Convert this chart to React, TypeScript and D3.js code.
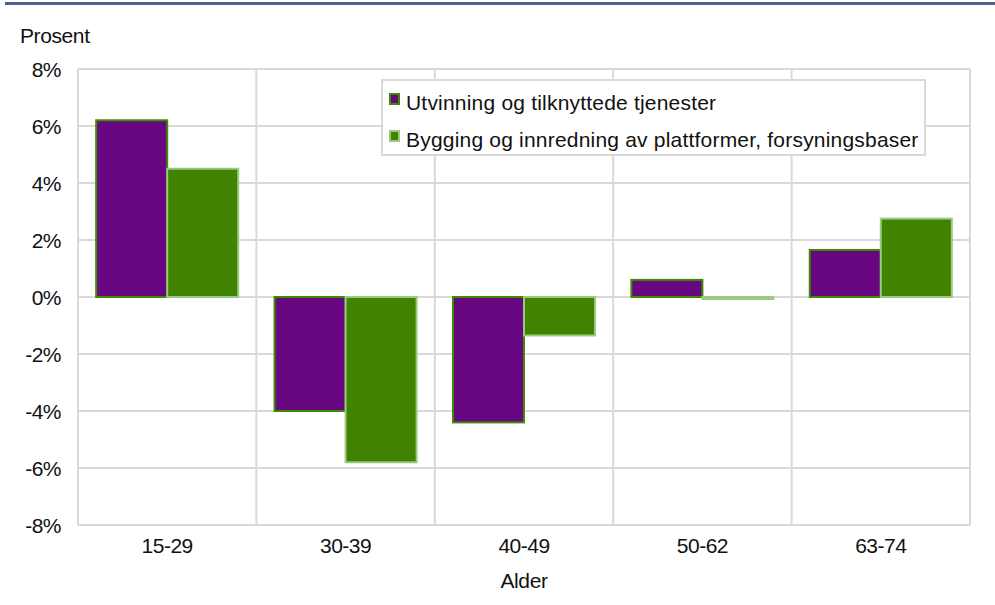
import React from 'react';
import * as d3 from 'd3';

const categories = ['15-29', '30-39', '40-49', '50-62', '63-74'];
const seriesNames = [
  'Utvinning og tilknyttede tjenester',
  'Bygging og innredning av plattformer, forsyningsbaser',
];
const utvinning = [6.2, -4.0, -4.4, 0.6, 1.65];
const bygging = [4.5, -5.8, -1.35, -0.07, 2.75];
const yTicks = [-8, -6, -4, -2, 0, 2, 4, 6, 8];

const fills = ['#690783', '#408300'];
const strokes = ['#3f8a00', '#9cc884'];

const W = 995;
const H = 605;
const margin = { top: 69, right: 25, bottom: 80, left: 78 };

export default function App() {
  const innerW = W - margin.left - margin.right;
  const innerH = H - margin.top - margin.bottom;

  const x = d3.scaleBand<string>().domain(categories).range([0, innerW]).paddingInner(0).paddingOuter(0);
  const x1 = d3.scaleBand<number>().domain([0, 1]).range([0, x.bandwidth()]).paddingOuter(0.256).paddingInner(0);
  const y = d3.scaleLinear().domain([-8, 8]).range([innerH, 0]);

  const series = [utvinning, bygging];
  const font = '"Liberation Sans", Arial, sans-serif';

  return (
    <svg width={W} height={H} style={{ position: 'absolute', left: 0, top: 0, fontFamily: font }}>
      <rect width={W} height={H} fill="#fff" />
      <rect x={5} y={2} width={990} height={3} fill="#4a6192" />
      <text x={20} y={43} fontSize={21} fill="#111" letterSpacing={-0.4}>Prosent</text>
      <g transform={`translate(${margin.left},${margin.top})`}>
        {/* horizontal grid */}
        {yTicks.map(t => (
          <line key={'h' + t} x1={0} x2={innerW} y1={y(t)} y2={y(t)} stroke="#d9d9d9" strokeWidth={2} />
        ))}
        {/* vertical grid */}
        {d3.range(categories.length + 1).map(i => (
          <line key={'v' + i} x1={i * x.step()} x2={i * x.step()} y1={0} y2={innerH} stroke="#d9d9d9" strokeWidth={2} />
        ))}
        {/* bars */}
        {categories.map((c, ci) =>
          series.map((s, si) => {
            const v = s[ci];
            const bx = (x(c) ?? 0) + (x1(si) ?? 0);
            const top = y(Math.max(0, v));
            const h = Math.abs(y(v) - y(0));
            return (
              <rect
                key={c + si}
                x={bx}
                y={top}
                width={x1.bandwidth()}
                height={Math.max(h, 1)}
                fill={fills[si]}
                stroke={strokes[si]}
                strokeWidth={2}
              />
            );
          })
        )}
        {/* y tick labels */}
        {yTicks.map(t => (
          <text key={'yl' + t} x={-17} y={y(t) + 8} textAnchor="end" fontSize={21} fill="#111" letterSpacing={-0.5}>
            {t + '%'}
          </text>
        ))}
        {/* x tick labels */}
        {categories.map(c => (
          <text key={'xl' + c} x={(x(c) ?? 0) + x.bandwidth() / 2} y={innerH + 28} textAnchor="middle" fontSize={21} fill="#111" letterSpacing={-0.5}>
            {c}
          </text>
        ))}
        <text x={innerW / 2} y={innerH + 63} textAnchor="middle" fontSize={21} fill="#111" letterSpacing={-0.4}>Alder</text>
      </g>
      {/* legend */}
      <g transform="translate(382,80)">
        <rect x={0} y={0} width={543} height={75} fill="#fff" stroke="#d9d9d9" strokeWidth={2} />
        {seriesNames.map((n, i) => (
          <g key={n} transform={`translate(0,${19 + i * 37})`}>
            <rect x={8} y={-5} width={9} height={10} fill={fills[i]} stroke={strokes[i]} strokeWidth={2} />
            <text x={24} y={11} fontSize={21} fill="#111" letterSpacing={0.2}>{n}</text>
          </g>
        ))}
      </g>
    </svg>
  );
}
